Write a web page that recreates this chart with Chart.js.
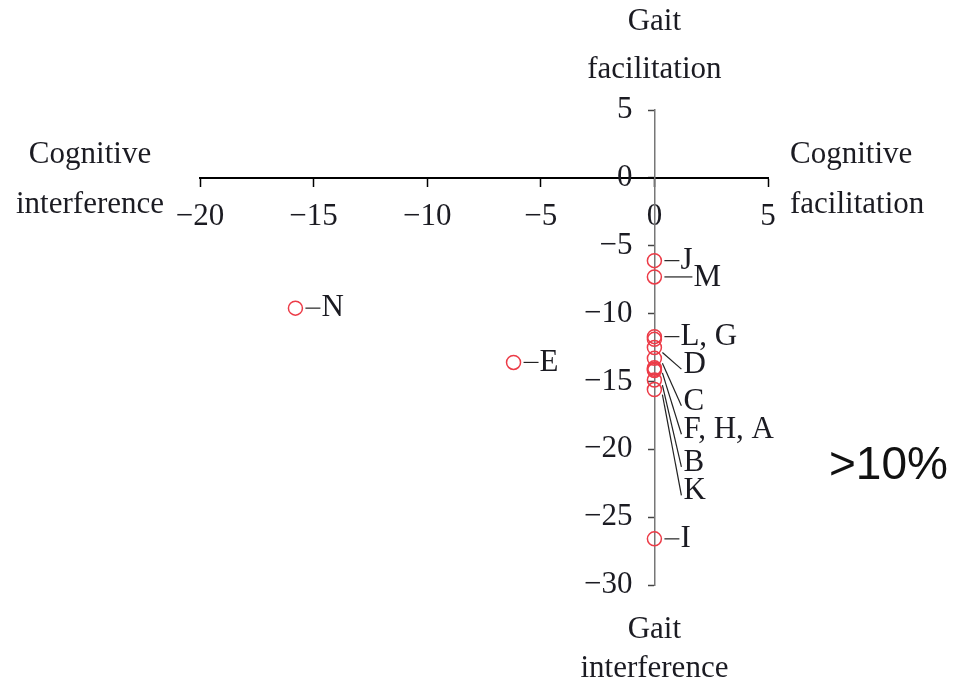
<!DOCTYPE html>
<html>
<head>
<meta charset="utf-8">
<script src="https://cdn.jsdelivr.net/npm/chart.js@4/dist/chart.umd.min.js"></script>
<style>
  html, body { margin: 0; padding: 0; background: #fff; }
  #wrap { position: relative; width: 961px; height: 688px; }
</style>
</head>
<body>
<div id="wrap"><canvas id="c" width="961" height="688"></canvas></div>
<script>
// ---- data ----
const pointNames = ['N', 'E', 'J', 'M', 'L', 'G', 'D', 'C', 'F', 'H', 'A', 'B', 'K', 'I'];
const cognitiveChange = [-15.8, -6.2, 0, 0, 0, 0, 0, 0, 0, 0, 0, 0, 0, 0];
const gaitChange = [-9.6, -13.6, -6.1, -7.3, -11.7, -11.9, -12.5, -13.3, -14.0, -14.1, -14.2, -14.9, -15.6, -26.6];
const xTicks = [-20, -15, -10, -5, 0, 5];
const yTicks = [5, 0, -5, -10, -15, -20, -25, -30];

// label groups: text, which point it belongs to, and where its text sits (gait units)
const labelTexts = ['N', 'E', 'J', 'M', 'L, G', 'D', 'C', 'F, H, A', 'B', 'K', 'I'];
const labelPoint = ['N', 'E', 'J', 'M', 'L', 'D', 'C', 'F', 'B', 'K', 'I'];
const labelY = [null, null, null, null, null, -13.8, -16.5, -18.6, -21.0, -23.1, null];
const labelKind = ['dash', 'dash', 'dash', 'line', 'dash', 'leader', 'leader', 'leader', 'leader', 'leader', 'dash'];

const SERIF = '"Liberation Serif", "DejaVu Serif", serif';
const TXT = '#1b1b22';
const FS = 31;
const fmt = v => (v < 0 ? '\u2212' + Math.abs(v) : String(v));

// shift y tick labels left of the centred axis line
const yLabelGap = {
  id: 'yLabelGap',
  beforeDraw(chart) {
    const items = chart.scales.y.getLabelItems();
    if (!items._shifted) {
      items.forEach(it => { it.options.translation[0] -= 22; });
      items._shifted = true;
    }
  }
};

const annotate = {
  id: 'annotate',
  afterDatasetsDraw(chart) {
    const ctx = chart.ctx;
    const xs = chart.scales.x, ys = chart.scales.y;
    ctx.save();
    ctx.fillStyle = TXT;
    ctx.strokeStyle = '#222';
    ctx.lineWidth = 1.2;
    ctx.font = FS + 'px ' + SERIF;
    ctx.textBaseline = 'middle';
    ctx.textAlign = 'left';
    labelTexts.forEach((t, i) => {
      const idx = pointNames.indexOf(labelPoint[i]);
      const px = xs.getPixelForValue(cognitiveChange[idx]);
      const py = ys.getPixelForValue(gaitChange[idx]);
      if (labelKind[i] === 'dash') {
        ctx.beginPath(); ctx.moveTo(px + 10, py); ctx.lineTo(px + 25, py); ctx.stroke();
        ctx.fillText(t, px + 26, py);
      } else if (labelKind[i] === 'line') {
        ctx.beginPath(); ctx.moveTo(px + 10, py); ctx.lineTo(px + 38, py); ctx.stroke();
        ctx.fillText(t, px + 39, py + 1);
      } else {
        const ly = ys.getPixelForValue(labelY[i]);
        ctx.beginPath(); ctx.moveTo(px + 8, py + 5); ctx.lineTo(px + 27, ly + 4); ctx.stroke();
        ctx.fillText(t, px + 29, ly);
      }
    });

    // quadrant titles
    const x0 = xs.getPixelForValue(0);
    const y0 = ys.getPixelForValue(0);
    ctx.textAlign = 'center';
    ctx.fillText('Gait', x0, 22);
    ctx.fillText('facilitation', x0, 70);
    ctx.fillText('Gait', x0, 630);
    ctx.fillText('interference', x0, 669);
    ctx.fillText('Cognitive', 90, y0 - 23);
    ctx.fillText('interference', 90, y0 + 27);
    ctx.textAlign = 'left';
    ctx.fillText('Cognitive', 790, y0 - 23);
    ctx.fillText('facilitation', 790, y0 + 27);

    ctx.font = '46px "Liberation Sans", Arial, sans-serif';
    ctx.fillStyle = '#111';
    ctx.fillText('>10%', 829, 466);
    ctx.restore();
  }
};

new Chart(document.getElementById('c'), {
  type: 'scatter',
  data: {
    datasets: [{
      data: pointNames.map((n, i) => ({ x: cognitiveChange[i], y: gaitChange[i] })),
      pointStyle: 'circle',
      pointRadius: 7,
      pointBorderWidth: 1.5,
      borderColor: '#ec3b47',
      backgroundColor: 'rgba(0,0,0,0)',
      pointBackgroundColor: 'rgba(0,0,0,0)',
      pointBorderColor: '#ec3b47'
    }]
  },
  options: {
    responsive: false,
    animation: false,
    devicePixelRatio: 1,
    layout: { padding: { left: 200, right: 193, top: 110, bottom: 103 } },
    plugins: { legend: { display: false }, tooltip: { enabled: false } },
    scales: {
      x: {
        type: 'linear', min: -20, max: 5,
        position: { y: 0 },
        afterFit: s => { s.height = 0; },
        afterBuildTicks: s => { s.ticks = xTicks.map(v => ({ value: v })); },
        ticks: { autoSkip: false, maxRotation: 0, color: TXT, font: { family: SERIF, size: FS }, padding: 12, callback: fmt },
        grid: { drawOnChartArea: false, drawTicks: true, tickLength: 8, color: '#000', tickWidth: 1.5 },
        border: { color: '#000', width: 2 }
      },
      y: {
        type: 'linear', min: -30, max: 5,
        position: { x: 0 },
        afterFit: s => { s.width = 0; },
        afterBuildTicks: s => { s.ticks = yTicks.map(v => ({ value: v })); },
        ticks: { autoSkip: false, color: TXT, font: { family: SERIF, size: FS }, padding: 6, callback: fmt },
        grid: { drawOnChartArea: false, drawTicks: true, tickLength: 6, color: '#444', tickWidth: 1.5 },
        border: { color: '#777', width: 1.5 }
      }
    }
  },
  plugins: [yLabelGap, annotate]
});
</script>
</body>
</html>
